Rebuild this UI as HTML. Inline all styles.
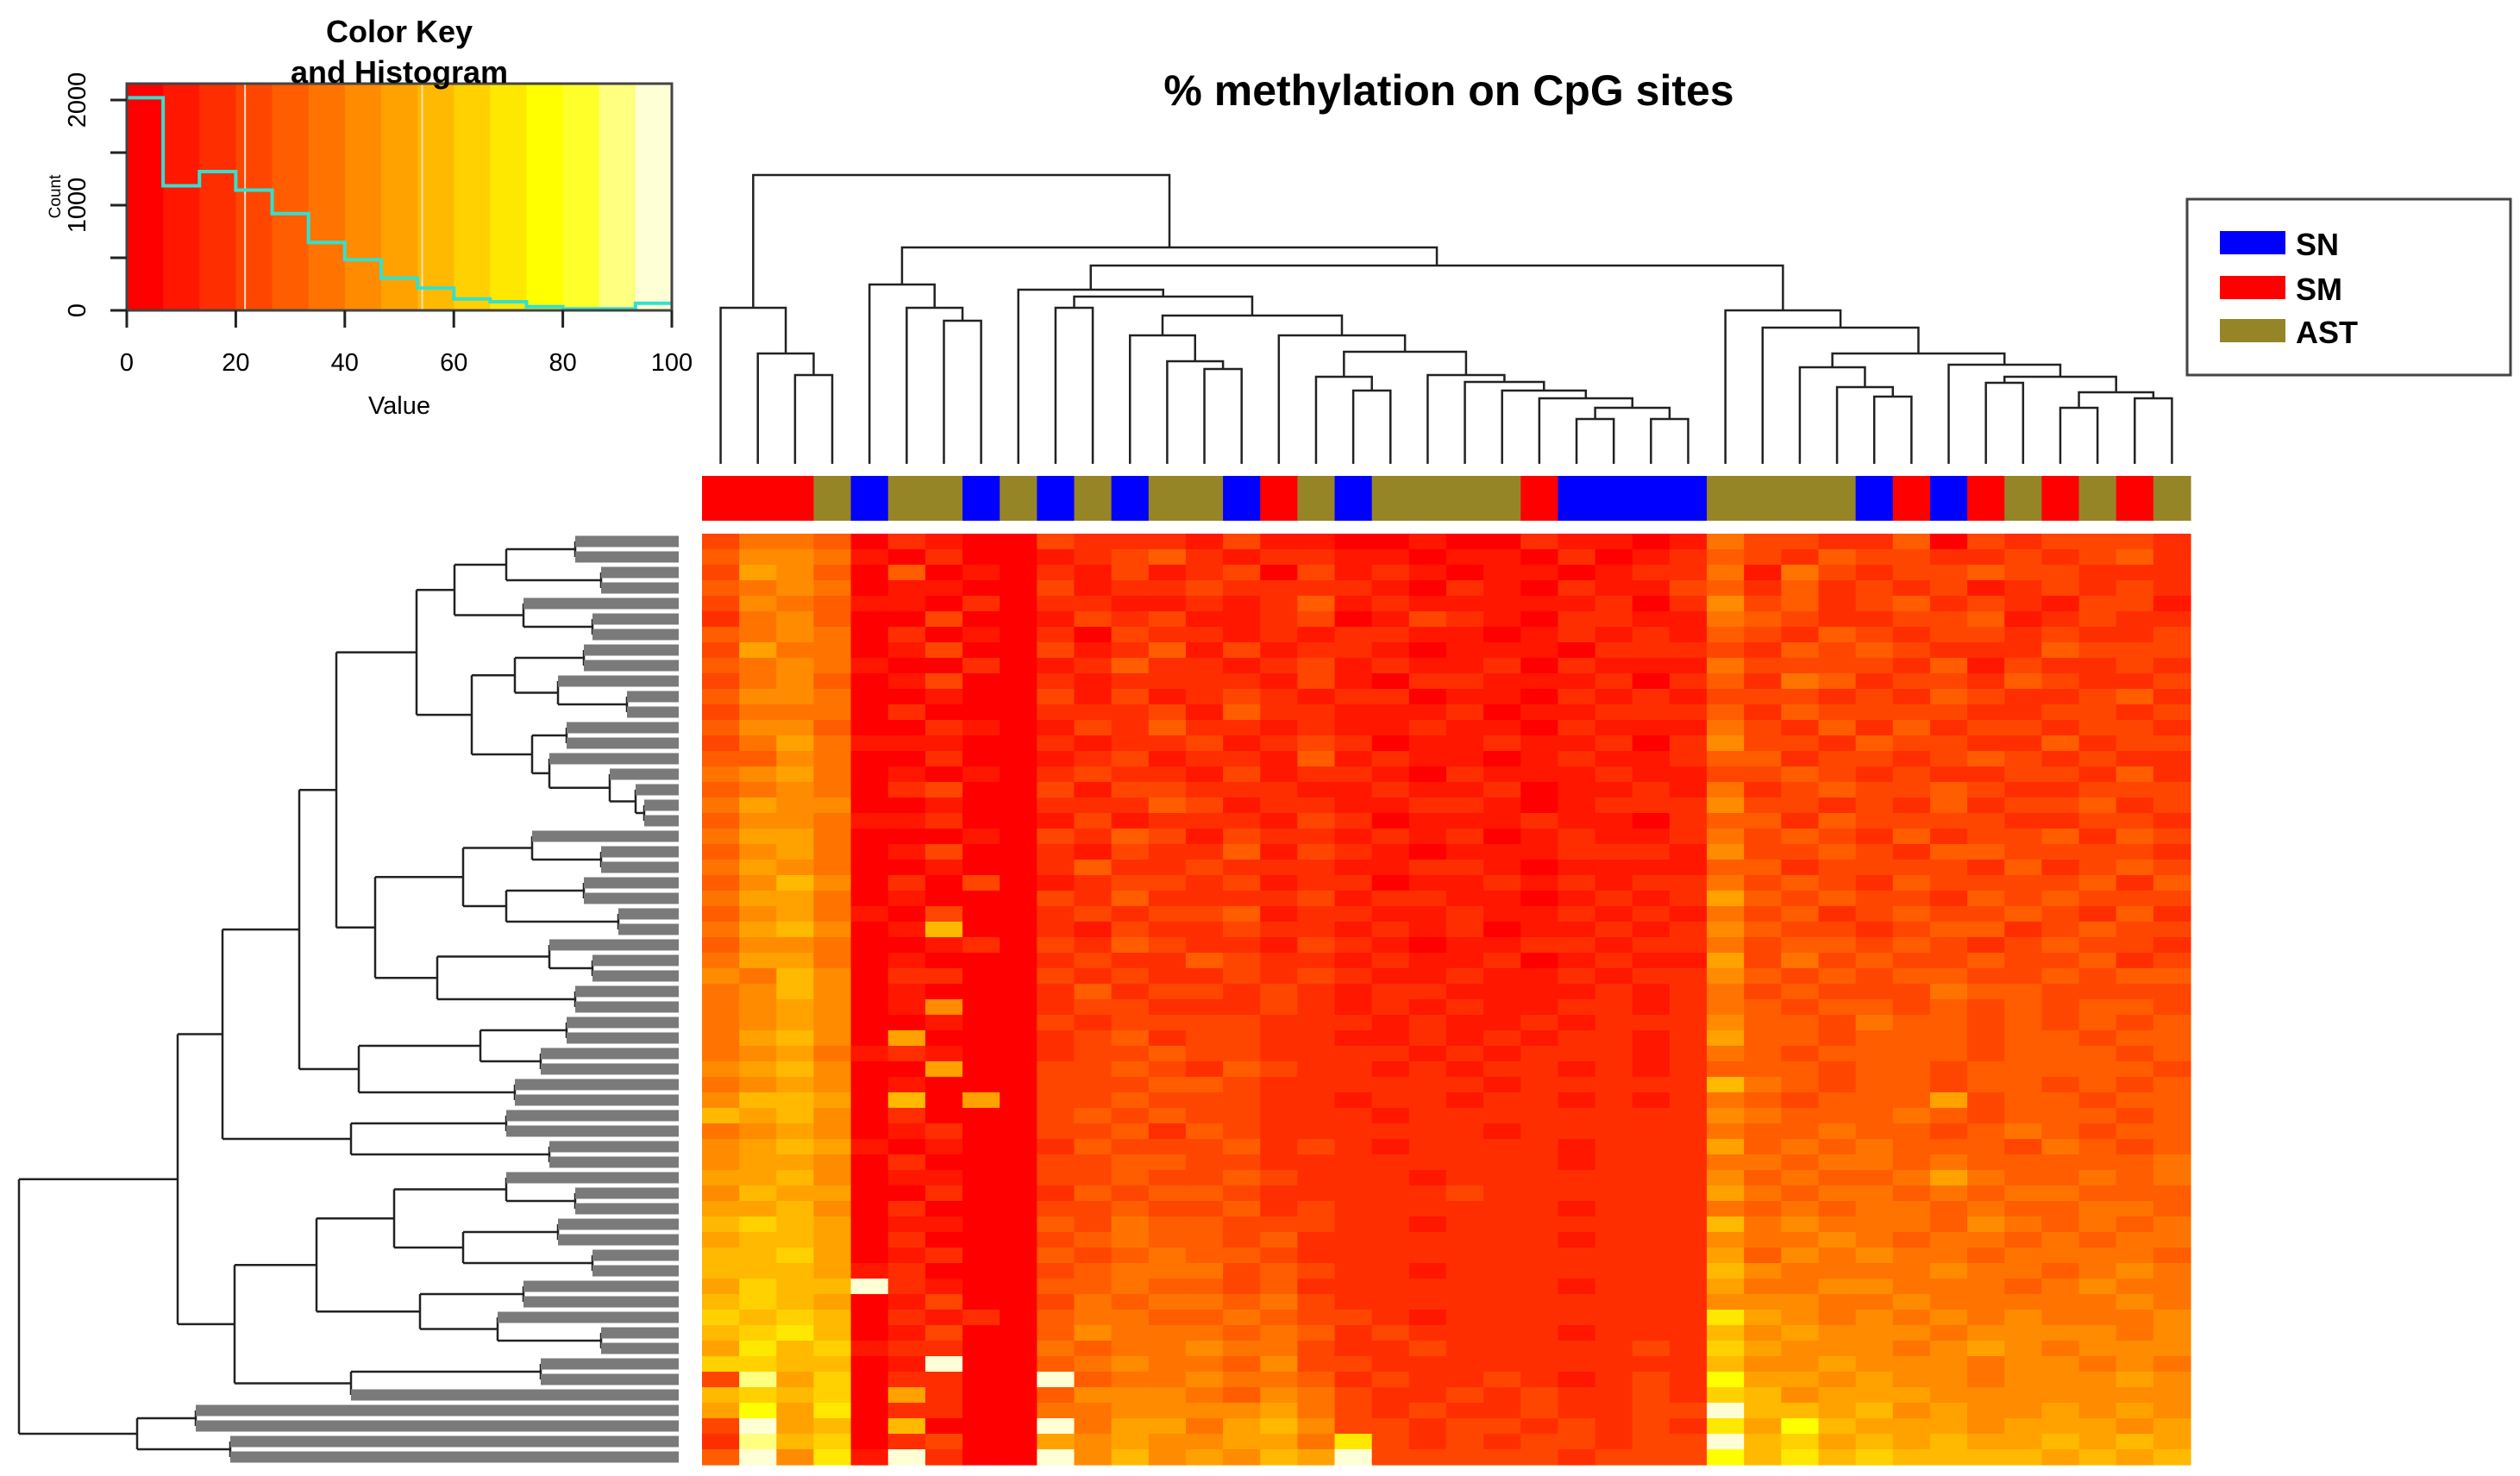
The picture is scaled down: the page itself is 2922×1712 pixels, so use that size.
<!DOCTYPE html>
<html><head><meta charset="utf-8"><style>
html,body{margin:0;padding:0;background:#fff}
svg{display:block}
text{font-family:"Liberation Sans",sans-serif;fill:#000}
</style></head><body>
<svg id="chart" width="2922" height="1712" viewBox="0 0 2922 1712" xmlns="http://www.w3.org/2000/svg">
<g id="key"></g>
<text x="1680" y="122" font-size="50" font-weight="bold" text-anchor="middle">% methylation on CpG sites</text>
<g id="coldendro" stroke="#222" stroke-width="2.5" fill="none"></g>
<g id="rowdendro" stroke="#222" stroke-width="2.5" fill="none"></g>
<g id="colbar"></g>
<g id="heat"></g>
<g>
<rect x="2536" y="231" width="375" height="204" fill="#fff" stroke="#444" stroke-width="3"/>
<rect x="2574" y="268" width="76" height="27" fill="#0000ff"/>
<text x="2662" y="296" font-size="36" font-weight="bold">SN</text>
<rect x="2574" y="320" width="76" height="27" fill="#ff0000"/>
<text x="2662" y="348" font-size="36" font-weight="bold">SM</text>
<rect x="2574" y="370" width="76" height="27" fill="#968526"/>
<text x="2662" y="398" font-size="36" font-weight="bold">AST</text>
</g>
</svg>
<script>
// ---------- data ----------
const keyCounts = [2022,1184,1320,1143,920,645,482,307,212,109,82,35,14,14,68];
const keyTicksX = [0,20,40,60,80,100];
const keyTicksY = [0,500,1000,1500,2000];
const keyLabelsY = [0,1000,2000];
const colGroups = ["SM","SM","SM","AST","SN","AST","AST","SN","AST","SN","AST","SN","AST","AST","SN","SM","AST","SN","AST","AST","AST","AST","SM","SN","SN","SN","SN","AST","AST","AST","AST","SN","SM","SN","SM","AST","SM","AST","SM","AST"];
const groupColors = {SN:"#0000ff",SM:"#ff0000",AST:"#968526"};
// column tree: [height, left, right]; leaves are column indices
const colTree = [335,[181,0,[128,1,[103,2,3]]],[251,[208,4,[181,5,[166,6,7]]],[230,[202,8,[194,[181,9,10],[172,[149,11,[119,12,[110,13,14]]],[149,15,[130,[101,16,[85,17,18]],[103,19,[95,20,[85,21,[76,22,[65,[52,23,24],[52,25,26]]]]]]]]]]],[178,27,[158,28,[128,[112,29,[89,30,[78,31,32]]],[115,33,[101,[94,34,35],[83,[65,36,37],[76,38,39]]]]]]]]]];
// row tree
const rowG1 = [304,[260,[200,[120,0,1],[90,2,3]],[180,4,[100,5,6]]],[240,[190,[110,7,8],[140,9,[60,10,11]]],[170,[130,12,13],[150,14,[80,15,[50,16,[40,17,18]]]]]]];
const rowG2 = [352,[250,[170,19,[90,20,21]],[200,[110,22,23],[70,24,25]]],[280,[150,26,[100,27,28]],[120,29,30]]];
const rowG3 = [371,[230,[130,31,32],[160,33,34]],[190,35,36]];
const rowG4 = [380,[200,37,38],[150,39,40]];
const rowMid = [515,[420,[330,[200,41,[120,42,43]],[250,[140,44,45],[100,46,47]]],[300,[180,48,49],[210,50,[90,51,52]]]],[380,[160,53,54],55]];
const rowB = [628,[560,56,57],[520,58,59]];
const rowTree = [765,[581,[529,[440,[397,rowG1,rowG2],rowG3],rowG4],rowMid],rowB];
// heatmap levels (0-e, 15 colour bins), one string per row, 40 columns
const heatRows = [
"3554 0 2100 3222 1311 0010 0211 01 5 3322 4032 3332",
"4665 1 0200 1234 2122 1101 1020 12 4 3243 3223 2342",
"3764 0 4010 2131 2303 1210 1101 22 5 1532 3343 3222",
"4565 0 1100 3122 3222 2102 1021 13 4 2423 2312 3232",
"3654 1 1020 2211 2124 1211 1112 02 6 3423 4232 1331",
"2564 0 0300 1323 1123 0132 1022 11 5 4322 3341 2322",
"4565 0 2010 2032 2121 2211 0121 21 4 3243 2332 3223",
"3755 0 1300 3124 1312 2101 1102 22 3 2434 3222 4333",
"4565 1 0020 1242 2123 1211 2021 11 5 3333 2413 2232",
"3564 0 1300 2122 2213 1022 1112 02 4 2542 3324 3223",
"4665 0 0100 3131 2321 2201 1021 21 3 3323 2432 2342",
"3555 0 2000 2223 1422 1112 0112 22 4 2433 3322 3323",
"4664 0 0210 1324 2212 1121 1021 11 5 3242 4233 2332",
"3575 1 1100 2122 3123 2011 2112 02 6 3324 3322 4233",
"4465 0 0200 1231 2214 1211 0121 12 4 4233 2343 2322",
"5675 0 1010 2322 1312 2102 1112 11 3 3432 3223 3242",
"4565 0 2300 3133 2221 1211 2011 21 5 2343 3432 2333",
"5766 0 0100 2224 3122 1122 1012 22 6 3323 2423 3423",
"4665 1 1200 1312 2213 2011 1211 02 4 4243 3332 2332",
"5775 0 0010 3243 1322 1212 0121 12 5 3432 4233 4243",
"4675 0 1300 2132 2413 2101 1122 21 6 3343 2443 3332",
"5765 0 0100 2422 3222 1122 1011 11 4 4233 3324 2343",
"4686 0 2030 1233 2312 2011 2121 22 5 3432 4333 3424",
"5775 0 1000 3242 2223 1221 1012 12 7 4343 3243 4333",
"4675 1 0300 2323 3412 2112 1121 21 5 3423 4334 3242",
"5786 0 1800 2132 2322 1212 0112 12 6 4332 3442 3433",
"4665 0 0120 3243 2213 2101 1221 22 5 3443 4323 4332",
"5775 0 1000 2322 4322 1211 2012 11 7 3534 3343 3423",
"6586 0 2200 3232 2323 2112 1121 22 6 4343 4433 4344",
"5686 0 1000 2423 3232 1221 1112 12 5 3433 3544 3333",
"5676 0 1600 2332 2232 1212 1122 12 5 4344 3434 3443",
"5676 0 0100 3233 3322 2121 1212 22 6 4435 4434 3434",
"5786 0 7000 2342 3322 1121 2122 12 7 4434 4434 4344",
"5675 1 2100 2334 3322 2212 1222 12 5 4344 4434 4434",
"6786 0 0700 3343 2432 2121 2212 12 4 4434 4344 4443",
"5676 0 1000 3334 4322 2222 1222 22 8 5434 4344 3434",
"6887 0 8070 3343 3322 1221 2212 12 5 4344 4734 4344",
"8786 0 2000 3434 3322 2122 2222 22 6 5444 5434 4434",
"5676 0 1200 3342 4322 2222 1222 22 5 4454 4345 4344",
"6787 1 0100 2433 3423 2122 2212 22 7 4545 4443 5434",
"6776 0 2000 3344 3322 2222 2212 22 5 5455 4544 4445",
"7786 0 1100 3343 3432 2212 2222 22 6 4544 5754 4545",
"6877 0 0200 2434 4322 2223 2222 22 7 5455 4545 5444",
"7786 0 2000 3343 3423 2222 2212 22 5 4545 5454 4554",
"8987 0 1100 4354 4333 2212 2222 22 8 5655 5465 4545",
"7887 0 2000 3454 4342 2222 2212 22 6 5565 4554 5455",
"8897 0 1200 4345 4432 2222 2222 22 7 4656 5545 5554",
"8887 1 2000 3455 5343 2212 2222 22 8 6555 5655 4565",
"7988 e 2100 4454 4342 2222 2212 22 7 5566 5554 5655",
"8987 0 1300 3545 5453 2222 2222 22 6 6655 6555 5565",
"9898 0 2120 4554 4543 3212 2222 22 a 7656 5656 5556",
"89a8 0 1300 4655 5454 2322 2212 22 8 6766 6566 6656",
"7a89 1 2200 5455 6553 2232 2222 32 9 7666 5676 5666",
"9988 0 1e00 4565 5463 3222 2222 22 8 6676 6656 6565",
"3d79 0 2200 e455 6554 2322 3212 32 b 7767 6656 6676",
"8989 0 7200 4666 5465 3223 2322 32 9 8677 7666 6666",
"7b7a 0 2200 5566 6675 3232 2322 33 e 8878 6766 7676",
"3e78 0 8000 e577 5786 3323 3232 32 a 7b87 7767 7767",
"2d89 0 2300 7676 6775 a323 2332 33 e 8978 7877 8787",
"4e6a 1 e200 e686 7687 e333 3323 33 b 8a89 8888 7878"
];
// ---------- helpers ----------
const NS = "http://www.w3.org/2000/svg";
function mk(tag, attrs, parent){const e=document.createElementNS(NS,tag);for(const k in attrs)e.setAttribute(k,attrs[k]);parent.appendChild(e);return e;}
function palette(l){
  if(l<=11){const h=l*60/11;return "hsl("+h+",100%,50%)";}
  return ["#ffff2a","#ffff80","#ffffd5"][l-12];
}
// ---------- layout ----------
const HX0=814, HX1=2540, HY0=619, HY1=1699;
const nCols=40, nRows=heatRows.length;
const cw=(HX1-HX0)/nCols, rh=(HY1-HY0)/nRows;
const colX=i=>HX0+(i+0.5)*cw;
const rowY=i=>HY0+(i+0.5)*rh;

// heatmap
const heat=document.getElementById('heat');
heatRows.forEach((s,r)=>{
  const lv=s.replace(/\s+/g,'');
  for(let c=0;c<nCols;c++){
    const v=parseInt(lv[c]||'3',16);
    const rc=mk('rect',{x:(HX0+c*cw).toFixed(2),y:(HY0+r*rh).toFixed(2),width:(cw+0.6).toFixed(2),height:(rh+0.6).toFixed(2),fill:palette(v)},heat);
    
    
  }
});

// column side colours
const colbar=document.getElementById('colbar');
colGroups.forEach((g,c)=>{
  const rc=mk('rect',{x:(HX0+c*cw).toFixed(2),y:552,width:(cw+0.6).toFixed(2),height:52,fill:groupColors[g]},colbar);
  
  
});

// column dendrogram
const cd=document.getElementById('coldendro');
const CY=h=>538-h;
function drawCol(n){
  if(typeof n==='number') return {p:colX(n),h:0};
  const a=drawCol(n[1]), b=drawCol(n[2]), h=n[0];
  const pl=mk('polyline',{points:`${a.p},${CY(a.h)} ${a.p},${CY(h)} ${b.p},${CY(h)} ${b.p},${CY(b.h)}`},cd);
  
  
  return {p:(a.p+b.p)/2,h:h};
}
drawCol(colTree);

// row dendrogram
const rd=document.getElementById('rowdendro');
const RX=h=>787-h;
function drawRow(n){
  if(typeof n==='number') return {p:rowY(n),h:0};
  const a=drawRow(n[1]), b=drawRow(n[2]), h=n[0];
  const pl=mk('polyline',{points:`${RX(h)},${a.p} ${RX(h)},${b.p}`},rd);
  
  
  [a,b].forEach(ch=>{
    const leaf=ch.h===0;
    const ln=mk('line',{x1:RX(h),x2:RX(ch.h),y1:ch.p,y2:ch.p},rd);
    if(leaf){ln.setAttribute('stroke','#7a7a7a');ln.setAttribute('stroke-width','13');}
    
    
  });
  return {p:(a.p+b.p)/2,h:h};
}
drawRow(rowTree);

// colour key
const key=document.getElementById('key');
const KX0=147,KX1=779,KY0=97,KY1=360;
const kx=v=>KX0+(v/100)*(KX1-KX0);
const ky=c=>KY1-c*(KY1-116)/2000;
for(let i=0;i<15;i++){
  const rc=mk('rect',{x:kx(i*100/15).toFixed(2),y:KY0,width:((KX1-KX0)/15+0.6).toFixed(2),height:KY1-KY0,fill:palette(i)},key);
  
  
}
[21.7,54.2].forEach(v=>{
  const ln=mk('line',{x1:kx(v),x2:kx(v),y1:KY0,y2:KY1,stroke:"#ffe0c0","stroke-width":2},key);
  
  
});
let pts=[];
keyCounts.forEach((c,i)=>{const x0=kx(i*100/15),x1=kx((i+1)*100/15);pts.push(`${x0},${ky(c)}`,`${x1},${ky(c)}`);});
const hist=mk('polyline',{points:pts.join(' '),fill:"none",stroke:"#33e0d0","stroke-width":4},key);


const frame=mk('rect',{x:KX0,y:KY0,width:KX1-KX0,height:KY1-KY0,fill:"none",stroke:"#444","stroke-width":3},key);


keyTicksX.forEach(v=>{
  const t=mk('line',{x1:kx(v),x2:kx(v),y1:KY1,y2:380,stroke:"#222","stroke-width":3},key);
  
  
  const tx=mk('text',{x:kx(v),y:430,"font-size":29,"text-anchor":"middle"},key);
  tx.textContent=v;
  
  
});
keyTicksY.forEach(v=>{
  const t=mk('line',{x1:128,x2:KX0,y1:ky(v),y2:ky(v),stroke:"#222","stroke-width":3},key);
  
  
});
keyLabelsY.forEach(v=>{
  const tx=mk('text',{x:0,y:0,"font-size":29,"text-anchor":"middle",transform:`translate(99,${ky(v)}) rotate(-90)`},key);
  tx.textContent=v;
  
  
});
const yt=mk('text',{x:0,y:0,"font-size":19,"text-anchor":"middle",transform:`translate(70,${ky(1000)-10}) rotate(-90)`},key);
yt.textContent="Count";


const xt=mk('text',{x:463,y:480,"font-size":29,"text-anchor":"middle"},key);
xt.textContent="Value";


const t1=mk('text',{x:463,y:49,"font-size":36,"font-weight":"bold","text-anchor":"middle"},key);
t1.textContent="Color Key";


const t2=mk('text',{x:463,y:96,"font-size":36,"font-weight":"bold","text-anchor":"middle"},key);
t2.textContent="and Histogram";


</script>
</body></html>
